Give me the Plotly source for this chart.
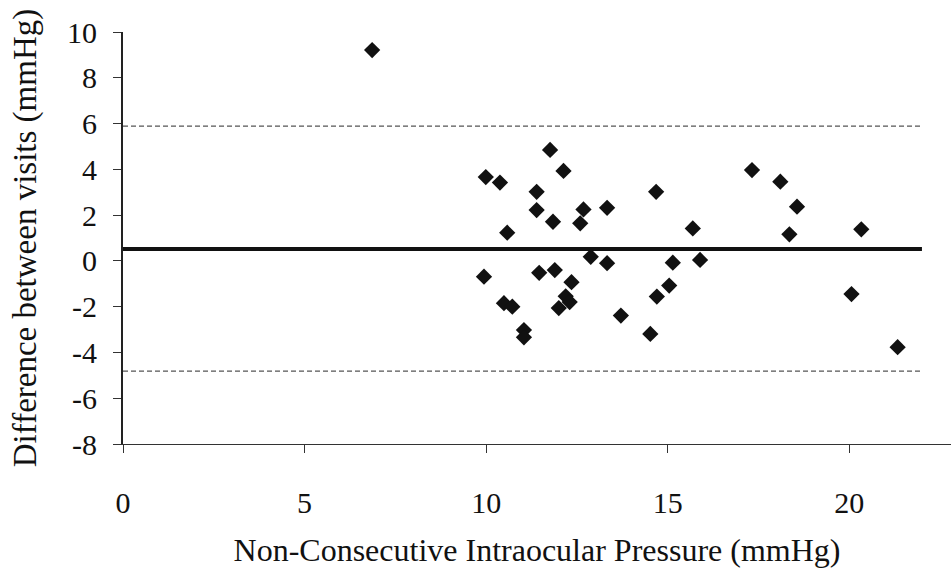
import plotly.graph_objects as go

# Mean IOP between visits (x) vs difference between visits (y)
iop_mean = [6.86, 9.99, 10.38, 12.13, 11.76, 11.39, 11.39, 11.84, 10.58, 12.68,
            12.59, 13.33, 14.68, 12.88, 13.33, 15.69, 15.14, 15.89, 9.94, 11.46,
            11.89, 12.35, 12.19, 12.30, 12.00, 10.49, 10.72, 11.04, 11.04, 13.71,
            14.52, 14.70, 15.04, 17.32, 18.10, 18.56, 18.35, 20.33, 20.06, 21.33]
iop_diff = [9.21, 3.66, 3.42, 3.93, 4.85, 3.02, 2.22, 1.71, 1.23, 2.25,
            1.64, 2.32, 3.02, 0.18, -0.10, 1.42, -0.08, 0.04, -0.69, -0.52,
            -0.40, -0.93, -1.55, -1.80, -2.06, -1.85, -2.00, -3.02, -3.34, -2.39,
            -3.19, -1.56, -1.08, 3.97, 3.46, 2.37, 1.16, 1.38, -1.45, -3.77]

# Bias and limits of agreement
bias = 0.52
upper_loa = 5.89
lower_loa = -4.82
line_span = [0, 22]

x_ticks = [0, 5, 10, 15, 20]
y_ticks = [-8, -6, -4, -2, 0, 2, 4, 6, 8, 10]

serif = "Liberation Serif"

fig = go.Figure()

for level in (upper_loa, lower_loa):
    fig.add_trace(go.Scatter(
        x=line_span, y=[level, level], mode="lines",
        line=dict(color="#555555", width=1.2, dash="5px,3px"),
        hoverinfo="skip", showlegend=False))

fig.add_trace(go.Scatter(
    x=line_span, y=[bias, bias], mode="lines",
    line=dict(color="#111111", width=4),
    hoverinfo="skip", showlegend=False))

fig.add_trace(go.Scatter(
    x=iop_mean, y=iop_diff, mode="markers",
    marker=dict(symbol="diamond", size=12.5, color="#111111",
                line=dict(width=0)),
    showlegend=False))

fig.update_layout(
    width=951, height=582,
    margin=dict(l=123, r=0, t=32, b=138),
    paper_bgcolor="white", plot_bgcolor="white",
    font=dict(family=serif, color="#111111"),
    xaxis=dict(
        range=[0, 22.8], tickvals=x_ticks, ticktext=[str(v) for v in x_ticks],
        showline=True, linecolor="#333333", linewidth=1,
        ticks="outside", ticklen=8, tickcolor="#333333", tickwidth=1,
        ticklabelstandoff=24,
        showgrid=False, zeroline=False,
        tickfont=dict(family=serif, size=30, color="#111111"),
        title=dict(text="Non-Consecutive Intraocular Pressure (mmHg)",
                   font=dict(family=serif, size=32, color="#111111"),
                   standoff=20)),
    yaxis=dict(
        range=[-8, 10], tickvals=y_ticks, ticktext=[str(v) for v in y_ticks],
        showline=True, linecolor="#222222", linewidth=2,
        ticks="outside", ticklen=8, tickcolor="#333333", tickwidth=1,
        ticklabelstandoff=10,
        showgrid=False, zeroline=False,
        tickfont=dict(family=serif, size=30, color="#111111"),
        title=dict(text="Difference between visits (mmHg)",
                   font=dict(family=serif, size=33, color="#111111"),
                   standoff=20)),
)

fig.write_html("out.html")
